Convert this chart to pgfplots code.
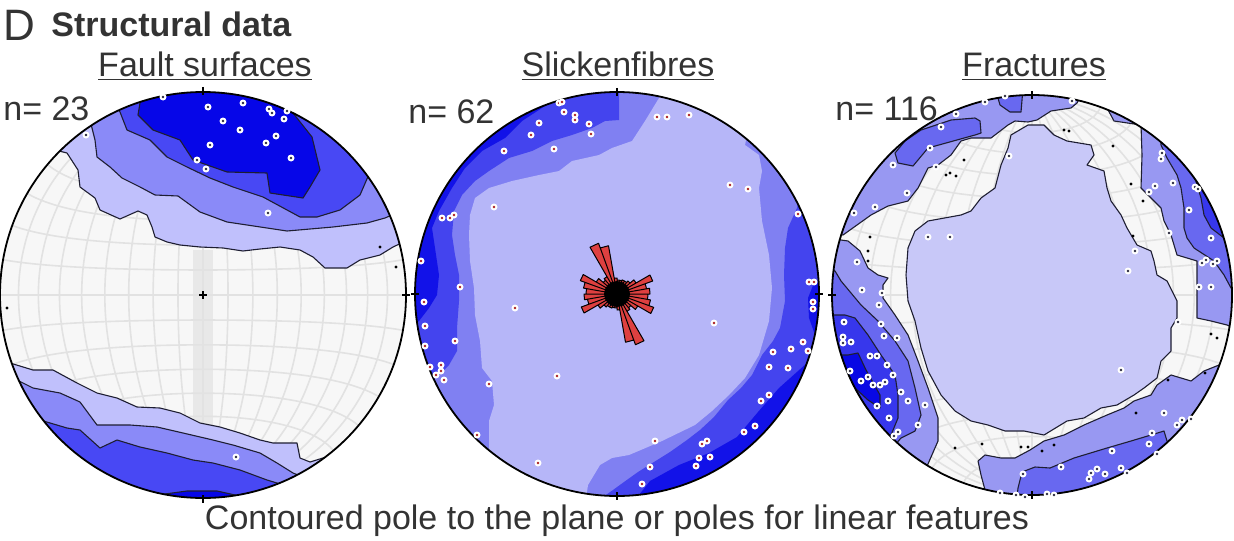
\documentclass[border=0pt]{standalone}
\usepackage{fontspec}
\setmainfont{Liberation Sans}
\usepackage{pgfplots}
\pgfplotsset{compat=1.18}

\definecolor{bgnet}{RGB}{247,247,247}
\definecolor{gridc}{RGB}{226,226,226}
\definecolor{bandc}{RGB}{232,232,232}
\definecolor{na}{RGB}{192,192,252}
\definecolor{nb}{RGB}{138,138,248}
\definecolor{nc}{RGB}{72,72,244}
\definecolor{nd}{RGB}{6,6,232}
\definecolor{sa}{RGB}{182,182,248}
\definecolor{sb}{RGB}{128,128,242}
\definecolor{sc}{RGB}{68,68,238}
\definecolor{sd}{RGB}{18,18,232}
\definecolor{fa}{RGB}{200,200,248}
\definecolor{fb}{RGB}{152,152,242}
\definecolor{fc}{RGB}{104,104,240}
\definecolor{fd}{RGB}{55,55,236}
\definecolor{fe}{RGB}{8,8,228}
\definecolor{cline}{RGB}{30,30,50}
\definecolor{txt}{RGB}{51,51,51}
\definecolor{rosered}{RGB}{222,64,64}
\definecolor{poledot}{RGB}{40,40,60}
\definecolor{poledotr}{RGB}{170,30,30}

\pgfdeclareplotmark{poleb}{%
  \pgfpathcircle{\pgfpointorigin}{\pgfplotmarksize}%
  \pgfsetfillcolor{white}\pgfusepathqfill
  \pgfpathcircle{\pgfpointorigin}{0.38\pgfplotmarksize}%
  \pgfsetfillcolor{poledot}\pgfusepathqfill}
\pgfdeclareplotmark{poler}{%
  \pgfpathcircle{\pgfpointorigin}{\pgfplotmarksize}%
  \pgfsetfillcolor{white}\pgfusepathqfill
  \pgfpathcircle{\pgfpointorigin}{0.38\pgfplotmarksize}%
  \pgfsetfillcolor{poledotr}\pgfusepathqfill}

\pgfplotsset{cont/.style={draw=cline, line width=0.55pt, line join=round}}

\newcommand{\schmidt}[3]{%
  \pgfplotsinvokeforeach{-80,-70,...,80}{%
    \draw[gridc, line width=0.8pt] plot[smooth, domain=-90:90, samples=31, variable=\t]
      (axis cs:{#1+#3*cos(\t)*sin(##1)/sqrt(1+cos(\t)*cos(##1))},{#2-#3*sin(\t)/sqrt(1+cos(\t)*cos(##1))});
    \draw[gridc, line width=0.8pt] plot[smooth, domain=-90:90, samples=31, variable=\t]
      (axis cs:{#1+#3*cos(##1)*sin(\t)/sqrt(1+cos(##1)*cos(\t))},{#2-#3*sin(##1)/sqrt(1+cos(##1)*cos(\t))});
  }%
}

\begin{document}
\begin{tikzpicture}
\begin{axis}[
  scale only axis, width=617pt, height=270pt,
  xmin=0, xmax=1234, ymin=0, ymax=540, y dir=reverse,
  hide axis, clip=true, unbounded coords=jump,
]

%================ NET 1 : Fault surfaces =================
\fill[bgnet] (axis cs:203,295) circle[radius=203];
\fill[bandc] (axis cs:193,250) rectangle (axis cs:213,425);
\schmidt{203}{295}{203}

\addplot[fill=na, cont] coordinates {(0,150) (55,150) (67,153) (78,170) (80,187) (95,198) (100,210) (120,219) (138,211) (147,215) (152,227) (155,237) (167,242) (180,245) (200,247) (223,248) (243,251) (260,249) (280,247) (300,250) (313,257) (325,268) (347,268) (360,260) (380,255) (393,247) (408,240) (408,86) (0,86) (0,150)};
\addplot[fill=nb, cont] coordinates {(90,120) (95,140) (97,157) (110,167) (122,178) (140,187) (155,195) (178,196) (200,212) (227,222) (267,228) (287,231) (333,227) (367,223) (385,218) (408,208) (408,86) (90,86) (90,120)};
\addplot[fill=nc, cont] coordinates {(112,100) (120,112) (127,130) (150,140) (167,157) (187,167) (210,178) (233,187) (263,197) (300,217) (317,217) (340,210) (360,195) (370,172) (385,150) (385,86) (112,86) (112,100)};
\addplot[fill=nd, cont] coordinates {(135,86) (140,103) (138,115) (153,130) (180,140) (193,160) (227,172) (267,173) (270,193) (303,198) (310,187) (320,170) (312,137) (293,113) (290,86) (135,86)};

\addplot[fill=na, cont] coordinates {(0,360) (10,363) (33,370) (53,370) (77,383) (97,393) (117,398) (137,407) (160,408) (180,413) (200,423) (220,427) (240,433) (260,440) (273,443) (297,443) (300,458) (310,462) (323,458) (345,452) (345,505) (0,505) (0,360)};
\addplot[fill=nb, cont] coordinates {(0,378) (17,380) (33,388) (60,393) (80,402) (97,425) (130,425) (157,427) (183,433) (213,440) (233,445) (260,453) (277,463) (293,473) (310,480) (310,505) (0,505) (0,378)};
\addplot[fill=nc, cont] coordinates {(20,415) (40,420) (67,428) (80,430) (100,448) (117,440) (140,447) (167,453) (193,460) (213,463) (240,470) (267,480) (277,483) (292,490) (292,505) (20,505) (20,415)};
\addplot[fill=nd, cont] coordinates {(160,505) (165,494) (187,491) (217,491) (235,495) (245,505) (160,505)};

\fill[white, even odd rule] (axis cs:-2,84) rectangle (axis cs:410,507) (axis cs:203,295) circle[radius=203];
\draw[black, line width=0.9pt] (axis cs:203,295) circle[radius=203];
\draw[black, line width=0.8pt] (axis cs:203,87) -- (axis cs:203,95);
\draw[black, line width=0.8pt] (axis cs:203,495) -- (axis cs:203,503);
\draw[black, line width=0.8pt] (axis cs:402,295) -- (axis cs:410,295);
\draw[black, line width=0.8pt] (axis cs:199,295) -- (axis cs:207,295);
\draw[black, line width=0.8pt] (axis cs:203,291) -- (axis cs:203,299);

\addplot[only marks, mark=*, mark size=0.5pt, black] coordinates {(380,247) (396,267) (7,308)};
\addplot[only marks, mark=poleb, mark size=1.75pt] coordinates {(163,97) (208,107) (243,103) (269,109) (272,113) (287,111) (284,119) (223,121) (240,130) (276,136) (266,143) (210,145) (291,158) (197,160) (206,169) (86,135) (268,213) (236,457)};

%================ NET 2 : Slickenfibres =================
\fill[sb] (axis cs:617,294) circle[radius=202];
\addplot[fill=sc, draw=none] coordinates {(619,86) (619,120) (605,121) (592,128) (572,135) (552,141) (532,151) (509,158) (489,171) (475,181) (462,195) (454,211) (452,235) (455,255) (459,275) (459,301) (457,328) (457,351) (449,365) (439,375) (430,382) (411,392) (411,86) (619,86)};
\addplot[fill=sc, draw=none] coordinates {(800,190) (797,208) (788,228) (785,248) (784,275) (785,301) (780,328) (773,341) (762,355) (752,375) (741,388) (728,400) (714,417) (700,430) (687,440) (670,452) (654,462) (638,472) (624,482) (613,490) (603,497) (600,505) (823,505) (823,190) (800,190)};
\addplot[fill=sd, draw=none] coordinates {(548,86) (548,100) (545,106) (522,121) (505,138) (482,151) (465,168) (452,188) (439,211) (432,228) (435,248) (439,275) (437,295) (429,308) (419,321) (411,325) (411,86) (548,86)};
\addplot[fill=sd, draw=none] coordinates {(823,355) (807,363) (779,388) (758,412) (737,437) (709,453) (679,465) (650,481) (635,500) (635,505) (823,505) (823,355)};
\addplot[fill=sd, draw=none] coordinates {(823,280) (814,283) (808,298) (809,318) (814,332) (823,338) (823,280)};
\addplot[fill=sa, draw=none] coordinates {(659,86) (659,98) (645,121) (632,141) (612,148) (599,155) (572,161) (559,171) (539,175) (512,181) (489,188) (475,198) (470,215) (469,235) (470,261) (474,288) (475,315) (480,341) (482,368) (492,381) (494,405) (489,421) (489,441) (489,455) (480,470) (500,505) (585,505) (588,485) (600,465) (612,458) (629,455) (662,441) (695,425) (712,411) (729,395) (745,378) (759,355) (769,321) (772,288) (769,255) (762,221) (759,188) (762,171) (759,155) (745,145) (750,120) (700,86) (659,86)};

\fill[white, even odd rule] (axis cs:410,84) rectangle (axis cs:825,507) (axis cs:617,294) circle[radius=202];
\draw[black, line width=0.9pt] (axis cs:617,294) circle[radius=202];
\draw[black, line width=0.8pt] (axis cs:617,88) -- (axis cs:617,96);
\draw[black, line width=0.8pt] (axis cs:617,492) -- (axis cs:617,500);
\draw[black, line width=0.8pt] (axis cs:411,294) -- (axis cs:419,294);
\draw[black, line width=0.8pt] (axis cs:815,294) -- (axis cs:823,294);

\addplot[only marks, mark=poler, mark size=1.75pt] coordinates {(559,103) (562,102) (564,112) (575,115) (575,120) (589,124) (591,134) (539,123) (531,135) (554,149) (504,151) (494,207) (442,218) (450,218) (454,215) (421,261) (460,287) (424,302) (515,308) (425,326) (425,346) (455,341) (430,367) (441,365) (441,371) (436,375) (444,380) (557,376) (489,384) (477,435) (538,463) (657,117) (667,117) (689,115) (730,185) (748,189) (798,214) (809,282) (814,282) (813,302) (813,309) (714,323) (803,342) (808,351) (773,352) (791,349) (769,367) (788,368) (769,395) (761,401) (755,426) (744,432) (655,441) (707,441) (702,444) (699,458) (710,457) (696,466) (650,467) (642,484)};

% rose diagram (azimuth a in degrees, petal length r in px)
\addplot[fill=rosered, draw=black, line width=0.5pt, line join=round] table[row sep=\\, x expr={617+\thisrow{r}*sin(\thisrow{a})}, y expr={294-\thisrow{r}*cos(\thisrow{a})}] {
a r \\
0 0 \\ 0 14 \\ 10 14 \\ 0 0 \\ 10 14 \\ 20 14 \\ 0 0 \\ 20 15 \\ 30 15 \\ 0 0 \\ 30 15 \\ 40 15 \\ 0 0 \\
40 17 \\ 50 17 \\ 0 0 \\ 50 22 \\ 60 22 \\ 0 0 \\ 60 38 \\ 70 38 \\ 0 0 \\ 70 30 \\ 80 30 \\ 0 0 \\
80 33 \\ 90 33 \\ 0 0 \\ 90 31 \\ 100 31 \\ 0 0 \\ 100 34 \\ 110 34 \\ 0 0 \\ 110 39 \\ 120 39 \\ 0 0 \\
120 24 \\ 130 24 \\ 0 0 \\ 130 18 \\ 140 18 \\ 0 0 \\ 140 20 \\ 150 20 \\ 0 0 \\ 150 54 \\ 160 54 \\ 0 0 \\
160 49 \\ 170 49 \\ 0 0 \\ 170 16 \\ 180 16 \\ 0 0 \\
180 14 \\ 190 14 \\ 0 0 \\ 190 14 \\ 200 14 \\ 0 0 \\ 200 15 \\ 210 15 \\ 0 0 \\ 210 15 \\ 220 15 \\ 0 0 \\
220 17 \\ 230 17 \\ 0 0 \\ 230 22 \\ 240 22 \\ 0 0 \\ 240 38 \\ 250 38 \\ 0 0 \\ 250 30 \\ 260 30 \\ 0 0 \\
260 33 \\ 270 33 \\ 0 0 \\ 270 31 \\ 280 31 \\ 0 0 \\ 280 34 \\ 290 34 \\ 0 0 \\ 290 39 \\ 300 39 \\ 0 0 \\
300 24 \\ 310 24 \\ 0 0 \\ 310 18 \\ 320 18 \\ 0 0 \\ 320 20 \\ 330 20 \\ 0 0 \\ 330 54 \\ 340 54 \\ 0 0 \\
340 49 \\ 350 49 \\ 0 0 \\ 350 16 \\ 360 16 \\ 0 0 \\
};
\fill[black] (axis cs:617,294) circle[radius=13];

%================ NET 3 : Fractures =================
\fill[bgnet] (axis cs:1032,295) circle[radius=200];
\schmidt{1032}{295}{200}

\addplot[fill=fb, cont, even odd rule] coordinates {(826,84) (1240,84) (1240,507) (826,507) (826,84) (nan,nan)
(1077,103) (1085,88) (1105,88) (1107,108) (1114,121) (1141,125) (1142,155) (1141,188) (1151,198) (1161,208) (1164,221) (1171,235) (1177,255) (1197,261) (1197,288) (1197,318) (1211,321) (1227,325) (1238,330) (1238,360) (1219,365) (1204,371) (1191,381) (1181,378) (1171,375) (1157,385) (1151,395) (1134,401) (1124,408) (1107,415) (1084,425) (1064,435) (1044,441) (1030,450) (1015,458) (1001,458) (985,455) (978,461) (981,475) (985,490) (985,504) (920,504) (921,480) (938,441) (938,418) (928,388) (918,361) (908,335) (895,315) (883,298) (883,285) (888,278) (878,275) (868,268) (860,251) (848,241) (841,240) (829,238) (829,232) (843,235) (871,215) (888,206) (908,201) (918,188) (928,168) (938,165) (951,155) (961,141) (971,138) (991,138) (1008,125) (1015,121) (1028,122) (1037,120) (1051,111) (1071,108) (1077,103)};

\addplot[fill=fa, cont] coordinates {(1031,125) (1044,125) (1054,135) (1067,141) (1091,145) (1094,155) (1087,165) (1104,171) (1107,188) (1111,201) (1121,215) (1127,228) (1137,245) (1151,251) (1154,261) (1157,275) (1167,281) (1174,295) (1177,301) (1177,318) (1171,328) (1171,351) (1161,361) (1157,378) (1144,388) (1134,395) (1117,405) (1101,408) (1084,418) (1067,421) (1044,435) (1024,431) (1005,431) (988,425) (971,421) (955,411) (941,395) (928,371) (921,348) (915,321) (908,301) (906,275) (908,248) (915,231) (928,221) (961,215) (971,211) (981,198) (995,188) (1001,165) (1008,148) (1011,135) (1028,125) (1031,125)};

\addplot[fill=fc, cont] coordinates {(895,153) (905,141) (921,130) (951,120) (975,118) (980,121) (981,133) (975,135) (928,148) (913,166) (898,163) (895,153)};
\addplot[fill=fc, cont] coordinates {(995,88) (1000,105) (1010,112) (1021,112) (1023,88) (995,88)};
\addplot[fill=fc, cont] coordinates {(828,268) (835,271) (841,281) (861,305) (878,321) (895,341) (908,361) (915,388) (921,415) (915,431) (901,438) (895,445) (885,455) (828,455) (828,268)};
\addplot[fill=fc, cont] coordinates {(1161,135) (1161,145) (1167,158) (1177,175) (1181,188) (1184,208) (1184,228) (1187,238) (1194,248) (1214,261) (1224,275) (1231,288) (1238,290) (1238,135) (1161,135)};
\addplot[fill=fc, cont] coordinates {(1016,505) (1018,488) (1022,472) (1035,467) (1050,468) (1074,458) (1107,448) (1131,441) (1151,435) (1164,431) (1167,441) (1172,452) (1172,505) (1016,505)};
\addplot[fill=fd, cont] coordinates {(828,315) (845,315) (855,318) (868,335) (881,355) (895,375) (898,395) (898,418) (891,435) (880,445) (828,445) (828,315)};
\addplot[fill=fd, cont] coordinates {(1185,162) (1194,175) (1201,198) (1204,215) (1211,228) (1224,238) (1229,245) (1238,250) (1238,162) (1185,162)};
\addplot[fill=fe, cont] coordinates {(829,355) (848,355) (858,353) (866,370) (880,395) (880,408) (868,400) (855,388) (840,387) (829,387) (829,355)};

\fill[white, even odd rule] (axis cs:825,82) rectangle (axis cs:1242,509) (axis cs:1032,295) circle[radius=200];
\draw[black, line width=0.9pt] (axis cs:1032,295) circle[radius=200];
\draw[black, line width=0.8pt] (axis cs:1032,91) -- (axis cs:1032,99);
\draw[black, line width=0.8pt] (axis cs:1032,491) -- (axis cs:1032,499);
\draw[black, line width=0.8pt] (axis cs:828,295) -- (axis cs:836,295);

\addplot[only marks, mark=*, mark size=0.5pt, black] coordinates {(946,175) (950,173) (956,176) (964,160) (870,237) (868,251) (868,261) (982,444) (955,448) (1021,447) (1028,447) (1064,130) (1069,131) (1113,146) (1131,184) (1143,201) (1133,236) (1211,334) (1217,338) (1205,373) (1168,380) (1136,413) (1054,445) (1042,451)};
\addplot[only marks, mark=poleb, mark size=1.75pt] coordinates {(985,102) (1005,96) (956,114) (941,127) (930,148) (893,165) (936,167) (907,193) (875,207) (854,213) (928,237) (950,237) (857,262) (862,290) (882,293) (879,305) (844,322) (881,324) (843,337) (843,343) (851,342) (884,336) (897,338) (870,356) (877,356) (887,365) (850,371) (893,375) (861,381) (868,377) (873,385) (880,385) (885,382) (901,392) (908,401) (888,401) (877,406) (889,418) (918,425) (898,432) (894,436) (925,405) (1023,474) (1000,493) (1016,495) (1025,497) (1009,156) (1072,101) (1162,153) (1161,159) (1173,183) (1155,186) (1149,192) (1195,187) (1198,189) (1189,210) (1169,233) (1211,238) (1135,251) (1128,271) (1202,263) (1206,260) (1213,264) (1217,261) (1199,287) (1211,287) (1178,322) (1121,370) (1164,413) (1177,425) (1182,420) (1191,419) (1152,433) (1149,444) (1157,454) (1112,451) (1121,468) (1127,473) (1097,469) (1091,473) (1105,474) (1089,479) (1061,467) (1047,494) (1054,495)};

%================ TEXT =================
\node[anchor=base west, inner sep=0pt, text=txt, font=\fontsize{22}{25}\selectfont] at (axis cs:3,41) {D};
\node[anchor=base west, inner sep=0pt, text=txt, font=\bfseries\fontsize{17}{20}\selectfont] at (axis cs:51,37) {Structural data};
\node[anchor=base, inner sep=0pt, text=txt, font=\fontsize{17}{20}\selectfont] at (axis cs:205,76) {\underline{Fault surfaces}};
\node[anchor=base, inner sep=0pt, text=txt, font=\fontsize{17}{20}\selectfont] at (axis cs:618,76) {\underline{Slickenfibres}};
\node[anchor=base, inner sep=0pt, text=txt, font=\fontsize{17}{20}\selectfont] at (axis cs:1034,76) {\underline{Fractures}};
\node[anchor=base west, inner sep=0pt, text=txt, font=\fontsize{17}{20}\selectfont] at (axis cs:3,120) {n= 23};
\node[anchor=base west, inner sep=0pt, text=txt, font=\fontsize{17}{20}\selectfont] at (axis cs:408,123) {n= 62};
\node[anchor=base west, inner sep=0pt, text=txt, font=\fontsize{17}{20}\selectfont] at (axis cs:835,120) {n= 116};
\node[anchor=base, inner sep=0pt, text=txt, font=\fontsize{17}{20}\selectfont] at (axis cs:617,529) {Contoured pole to the plane or poles for linear features};
\end{axis}
\path (current axis.south west) rectangle (current axis.north east);
\end{tikzpicture}
\end{document}
